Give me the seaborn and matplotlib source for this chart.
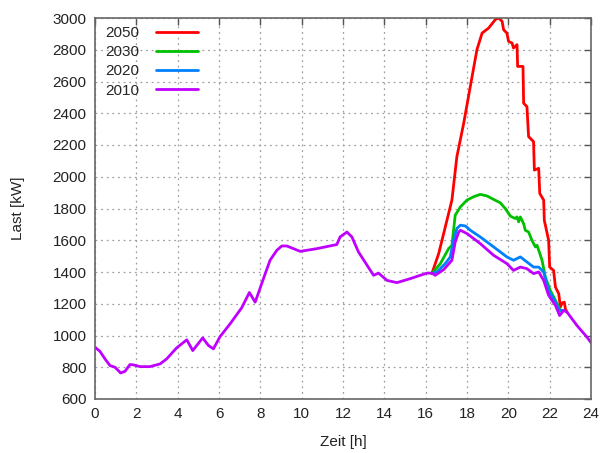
import numpy as np
import pandas as pd
import seaborn as sns
import matplotlib
matplotlib.use("Agg")
import matplotlib.pyplot as plt

# 2010 base load (full day)
h2010 = [0.0, 0.24, 0.48, 0.73, 0.97, 1.24, 1.45, 1.69, 1.85, 2.18, 2.66, 3.15, 3.47, 3.95,
         4.44, 4.73, 5.21, 5.49, 5.73, 6.05, 6.54, 7.1, 7.47, 7.75, 8.15, 8.47, 8.8, 9.04,
         9.28, 9.93, 10.73, 11.7, 11.86, 12.19, 12.43, 12.75, 13.48, 13.72, 14.13, 14.61,
         15.25, 16.06, 16.3, 16.46, 16.87, 17.27, 17.43, 17.6, 17.68, 18.0, 18.64, 19.29,
         19.93, 20.25, 20.58, 20.9, 21.22, 21.47, 21.71, 21.95, 22.28, 22.48, 22.68, 22.84,
         23.32, 23.81, 24.0]
v2010 = [926, 900, 853, 810, 800, 764, 774, 817, 815, 804, 804, 821, 853, 922,
         973, 905, 985, 937, 916, 993, 1074, 1175, 1271, 1210, 1358, 1474, 1537, 1564,
         1564, 1530, 1547, 1573, 1621, 1652, 1621, 1526, 1379, 1393, 1347, 1333,
         1358, 1393, 1393, 1379, 1415, 1474, 1589, 1652, 1663, 1642, 1579, 1505,
         1453, 1410, 1431, 1421, 1390, 1400, 1347, 1253, 1189, 1126, 1158, 1147,
         1063, 989, 955]

# 2020 evening segment
h2020 = [16.3, 16.54, 16.95, 17.19, 17.35, 17.51, 17.68, 17.92, 18.16, 18.64, 19.29, 19.93,
         20.25, 20.58, 20.9, 21.22, 21.47, 21.71, 21.95, 22.28, 22.48, 22.68]
v2020 = [1390, 1400, 1453, 1495, 1600, 1674, 1695, 1690, 1663, 1621, 1558, 1495,
         1474, 1495, 1463, 1431, 1431, 1400, 1284, 1210, 1158, 1158]

# 2030 evening segment
h2030 = [16.3, 16.71, 17.11, 17.27, 17.35, 17.43, 17.68, 18.0, 18.32, 18.64, 18.97, 19.29,
         19.61, 19.85, 20.1, 20.33, 20.42, 20.5, 20.58, 20.74, 20.82, 20.98, 21.14, 21.31,
         21.39, 21.47, 21.63, 21.79, 22.03, 22.28, 22.52, 22.68]
v2030 = [1390, 1453, 1547, 1568, 1663, 1758, 1810, 1853, 1874, 1889, 1879, 1857,
         1836, 1800, 1752, 1737, 1747, 1716, 1747, 1705, 1663, 1652, 1600, 1558,
         1568, 1537, 1474, 1368, 1284, 1221, 1158, 1158]

# 2050 evening segment
h2050 = [16.3, 16.63, 16.95, 17.27, 17.51, 17.84, 18.16, 18.48, 18.73, 19.05, 19.37, 19.53,
         19.7, 19.77, 19.93, 20.01, 20.18, 20.25, 20.42, 20.45, 20.71, 20.74, 20.9, 20.98,
         21.22, 21.26, 21.47, 21.52, 21.71, 21.74, 21.95, 22.0, 22.19, 22.28, 22.44, 22.52,
         22.6, 22.71, 22.76, 22.84]
v2050 = [1390, 1516, 1684, 1853, 2126, 2337, 2569, 2800, 2905, 2937, 2990, 3000,
         2979, 2926, 2905, 2853, 2842, 2811, 2832, 2695, 2695, 2463, 2442, 2253,
         2221, 2042, 2053, 1895, 1853, 1726, 1600, 1431, 1410, 1305, 1263, 1179,
         1205, 1210, 1168, 1147]

series = ["2050", "2030", "2020", "2010"]
colors = ["#ff0000", "#00c000", "#0080ff", "#c000ff"]

frames = []
for name, hh, vv in [("2050", h2050, v2050), ("2030", h2030, v2030),
                     ("2020", h2020, v2020), ("2010", h2010, v2010)]:
    frames.append(pd.DataFrame({"Zeit": hh, "Last": vv, "Jahr": name}))
df = pd.concat(frames, ignore_index=True)

sns.set_theme(style="white")
plt.rcParams["font.family"] = ["Liberation Sans", "DejaVu Sans"]

fig = plt.figure(figsize=(6.0, 4.53), dpi=100)
ax = fig.add_axes([95 / 600, 1 - 399 / 453, (591 - 95) / 600, (399 - 18) / 453])

sns.lineplot(data=df, x="Zeit", y="Last", hue="Jahr", hue_order=series,
             palette=dict(zip(series, colors)), sort=False, estimator=None,
             linewidth=2.0, ax=ax)

ax.set_xlim(0, 24)
ax.set_ylim(600, 3000)
ax.set_xticks(np.arange(0, 25, 2))
ax.set_yticks(np.arange(600, 3001, 200))
ax.grid(True, color="#a0a0a0", linestyle=(0, (1.5, 3)), linewidth=0.9)
ax.set_axisbelow(True)
ax.tick_params(direction="in", length=5, width=1, color="#555555",
               top=True, right=True, labelsize=11, labelcolor="#222222", pad=6)
for s in ax.spines.values():
    s.set_color("#666666")
    s.set_linewidth(1.2)
ax.set_xlabel("Zeit [h]", fontsize=11, color="#222222", labelpad=10)
ax.set_ylabel("Last [kW]", fontsize=11, color="#222222", labelpad=20)

leg = ax.legend(loc="upper left", frameon=False, markerfirst=False, fontsize=11,
                handlelength=2.8, handletextpad=1.1, labelspacing=0.33,
                borderaxespad=0.15, bbox_to_anchor=(0.003, 1.0))
for line in leg.get_lines():
    line.set_linewidth(2.0)
leg.set_zorder(5)

fig.savefig("out.png", dpi=100)
